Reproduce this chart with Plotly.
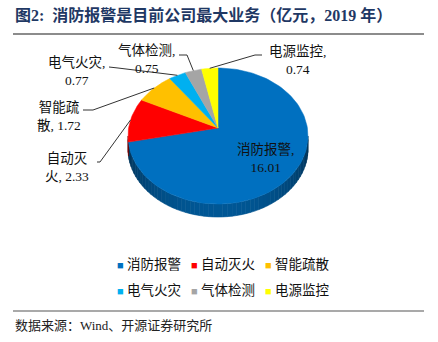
import math
import plotly.graph_objects as go

# ---------------- data ----------------
categories = ["消防报警", "自动灭火", "智能疏散", "电气火灾", "气体检测", "电源监控"]
values = [16.01, 2.33, 1.72, 0.77, 0.75, 0.74]
colors = ["#0070C0", "#FF0000", "#FFC000", "#00B0F0", "#A5A5A5", "#FFFF00"]
# where each slice label breaks its line (characters of the name on first line)
label_break = [4, 3, 3, 4, 4, 4]

title_text = "<b>图2:  消防报警是目前公司最大业务（亿元，2019 年）</b>"
source_text = "数据来源：Wind、开源证券研究所"

# ---------------- geometry (pixel space) ----------------
W, H = 438, 342
VX, VY = 218.0, 128.0          # apex of slices
CX, CY = 218.0, 136.0          # ellipse centre of top face
RX, RY = 90.0, 68.0
DEPTH = 13.0

FONT = "Liberation Serif, 'Noto Sans CJK SC', serif"

total = sum(values)
cum = [0.0]
for v in values:
    cum.append(cum[-1] + v)
angles = [360.0 * c / total for c in cum]   # clockwise from 12 o'clock


def edge_point(theta_deg):
    t = math.radians(theta_deg)
    a, b = math.sin(t), -math.cos(t)
    p, q = (VX - CX) / RX, (VY - CY) / RY
    k = p * a + q * b
    s = -k + math.sqrt(k * k - (p * p + q * q - 1))
    return VX + s * a * RX, VY + s * b * RY


def shade(hexcol, f):
    r, g, b = int(hexcol[1:3], 16), int(hexcol[3:5], 16), int(hexcol[5:7], 16)
    return "rgb(%d,%d,%d)" % (r * f, g * f, b * f)


fig = go.Figure()

# side of the 3D pie (front half), coloured by owning slice
nstrip = 60
for i in range(nstrip):
    p1 = 90 + 180.0 * i / nstrip
    p2 = 90 + 180.0 * (i + 1) / nstrip
    pts = [p1 + (p2 - p1) * j / 4 for j in range(5)]
    xs = [CX + RX * math.sin(math.radians(p)) for p in pts]
    ys = [CY - RY * math.cos(math.radians(p)) for p in pts]
    xm = CX + RX * math.sin(math.radians((p1 + p2) / 2))
    ym = CY - RY * math.cos(math.radians((p1 + p2) / 2))
    th = math.degrees(math.atan2((xm - VX) / RX, -(ym - VY) / RY)) % 360
    idx = 0
    for k in range(len(values)):
        if angles[k] <= th < angles[k + 1]:
            idx = k
    lum = 0.42 + 0.36 * math.sin(math.radians((p1 + p2) / 2 - 90))
    xx = xs + xs[::-1] + [xs[0]]
    yy = ys + [y + DEPTH for y in ys[::-1]] + [ys[0]]
    fig.add_trace(go.Scatter(x=xx, y=yy, mode="lines", fill="toself",
                             fillcolor=shade(colors[idx], lum),
                             line=dict(width=0.6, color=shade(colors[idx], lum)),
                             hoverinfo="skip", showlegend=False))

# top face slices
for k, (name, val) in enumerate(zip(categories, values)):
    a0, a1 = angles[k], angles[k + 1]
    n = max(4, int((a1 - a0) / 2))
    xs, ys = [VX], [VY]
    for j in range(n + 1):
        x, y = edge_point(a0 + (a1 - a0) * j / n)
        xs.append(x)
        ys.append(y)
    xs.append(VX)
    ys.append(VY)
    fig.add_trace(go.Scatter(x=xs, y=ys, mode="lines", fill="toself",
                             fillcolor=colors[k], line=dict(width=0.5, color=colors[k]),
                             name=name, hoverinfo="skip", showlegend=False))

# legend entries (square swatch drawn as part of the entry text, tight to the label)
for k, name in enumerate(categories):
    fig.add_trace(go.Scatter(
        x=[None], y=[None], mode="markers",
        name=f"<span style='color:{colors[k]};font-size:11px'>■</span> {name}",
        marker=dict(symbol="square", size=1, color="rgba(0,0,0,0)"),
        legend="legend" if k < 3 else "legend2"))
# blank spacer entries so the last label of each row is not clipped
for lg in ["legend", "legend2"]:
    fig.add_trace(go.Scatter(x=[None], y=[None], mode="markers", name=" ",
                             marker=dict(size=1, color="rgba(0,0,0,0)"), legend=lg))

# labels
label_pos = [(265, 158), (67, 167), (59, 116), (76, 71), (146, 59), (297, 60)]
elbows = [None, (100, 162), (93, 110), (118, 68), (187, 55), (255, 55)]
starts = [None, (97, 162), (83, 110), (109, 67), (179, 55), (262, 55)]
annotations = []
shapes = []
for k, (name, val) in enumerate(zip(categories, values)):
    b = label_break[k]
    if b >= len(name):
        txt = f"{name},<br>{val:.2f}"
    else:
        txt = f"{name[:b]}<br>{name[b:]}, {val:.2f}"
    x, y = label_pos[k]
    annotations.append(dict(x=x, y=y, xref="x", yref="y", text=txt, showarrow=False,
                            font=dict(family=FONT, size=13.5, color="#111111"),
                            align="center", xanchor="center", yanchor="middle"))
    if elbows[k] is not None:
        mid = (angles[k] + angles[k + 1]) / 2
        ex, ey = edge_point(mid)
        sx, sy = starts[k]
        bx, by = elbows[k]
        shapes.append(dict(type="path", xref="x", yref="y",
                           path=f"M{sx},{sy} L{bx},{by} L{ex:.1f},{ey:.1f}",
                           line=dict(color="#333333", width=1)))

annotations.append(dict(x=13, y=15, xref="x", yref="y", text=title_text, showarrow=False,
                        xanchor="left", yanchor="middle",
                        font=dict(family=FONT, size=16, color="#1F3864")))
annotations.append(dict(x=13, y=325, xref="x", yref="y", text=source_text, showarrow=False,
                        xanchor="left", yanchor="middle",
                        font=dict(family=FONT, size=13, color="#222222")))
shapes.append(dict(type="line", xref="x", yref="y", x0=13, x1=424, y0=34, y1=34,
                   line=dict(color="#8C8C8C", width=2)))
shapes.append(dict(type="line", xref="x", yref="y", x0=13, x1=424, y0=311, y1=311,
                   line=dict(color="#8C8C8C", width=1.5)))

legend_common = dict(orientation="h", font=dict(family=FONT, size=13.5, color="#111111"),
                     bgcolor="rgba(0,0,0,0)", itemwidth=30, entrywidth=29,
                     xanchor="left", yanchor="middle", tracegroupgap=0, itemclick=False)

fig.update_layout(
    width=W, height=H,
    margin=dict(l=0, r=0, t=0, b=0),
    paper_bgcolor="white", plot_bgcolor="white",
    xaxis=dict(range=[0, W], visible=False, fixedrange=True),
    yaxis=dict(range=[H, 0], visible=False, fixedrange=True),
    annotations=annotations,
    shapes=shapes,
    legend=dict(x=77 / W, y=1 - 264 / H, **legend_common),
    legend2=dict(x=77 / W, y=1 - 290 / H, **legend_common),
    showlegend=True,
)

fig.write_html("out.html")
